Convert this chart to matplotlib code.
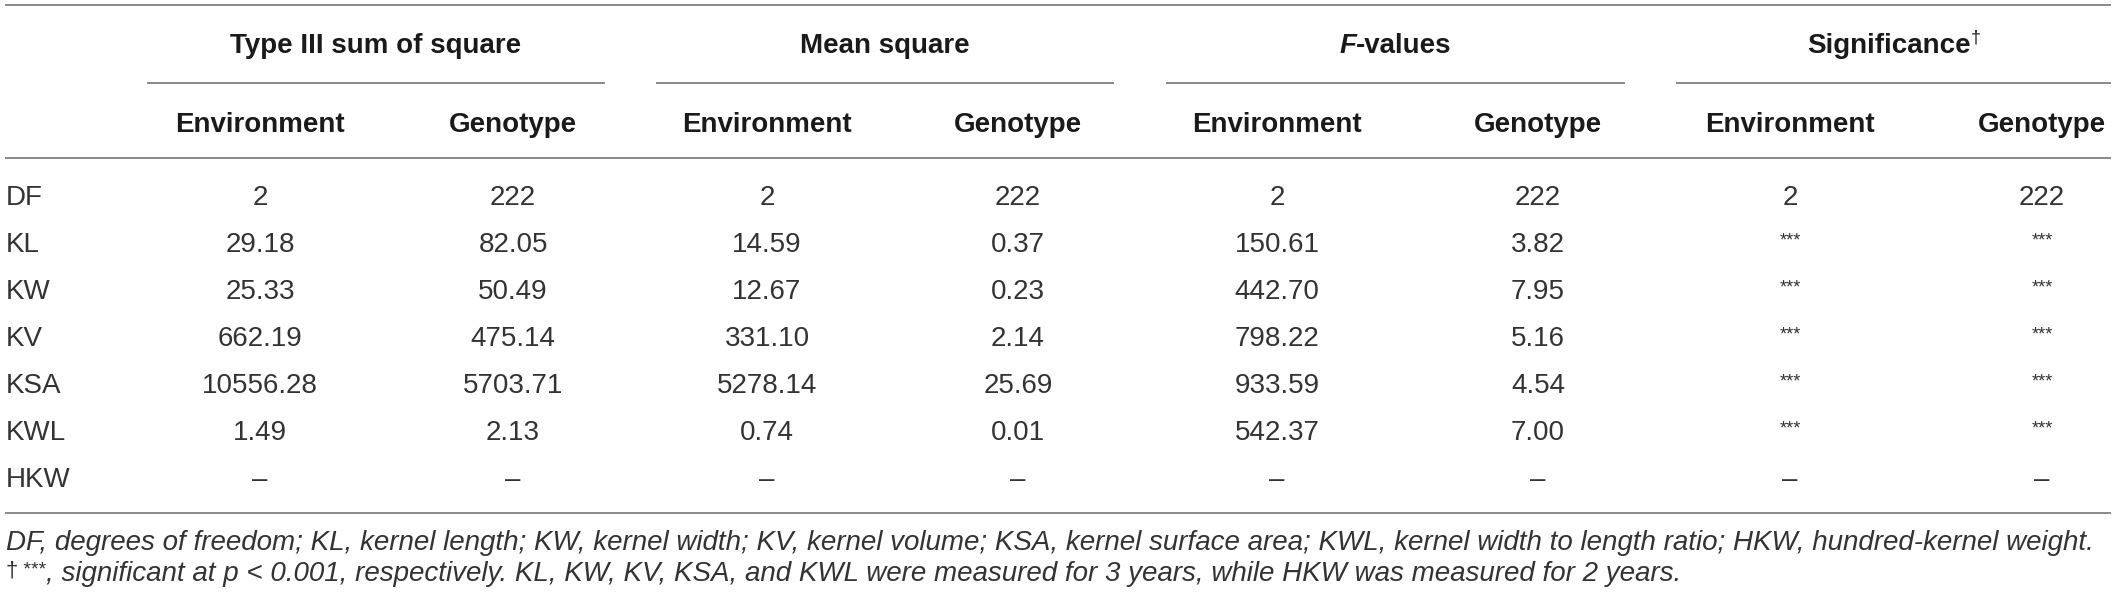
import matplotlib
matplotlib.use("Agg")
import matplotlib.pyplot as plt

plt.rcParams['font.family'] = ['Liberation Sans', 'DejaVu Sans']

# table content
groups = ["Type III sum of square", "Mean square", "F-values", "Significance"]
sub_heads = ["Environment", "Genotype"]
row_labels = ["DF", "KL", "KW", "KV", "KSA", "KWL", "HKW"]

sum_sq_env = ["2", "29.18", "25.33", "662.19", "10556.28", "1.49", "–"]
sum_sq_gen = ["222", "82.05", "50.49", "475.14", "5703.71", "2.13", "–"]
mean_sq_env = ["2", "14.59", "12.67", "331.10", "5278.14", "0.74", "–"]
mean_sq_gen = ["222", "0.37", "0.23", "2.14", "25.69", "0.01", "–"]
f_env = ["2", "150.61", "442.70", "798.22", "933.59", "542.37", "–"]
f_gen = ["222", "3.82", "7.95", "5.16", "4.54", "7.00", "–"]
sig_env = ["2", "***", "***", "***", "***", "***", "–"]
sig_gen = ["222", "***", "***", "***", "***", "***", "–"]

footnote_1 = ("DF, degrees of freedom; KL, kernel length; KW, kernel width; KV, kernel volume; "
              "KSA, kernel surface area; KWL, kernel width to length ratio; HKW, hundred-kernel weight.")
footnote_2 = (", significant at p < 0.001, respectively. KL, KW, KV, KSA, and KWL were measured "
              "for 3 years, while HKW was measured for 2 years.")

columns = [sum_sq_env, sum_sq_gen, mean_sq_env, mean_sq_gen, f_env, f_gen, sig_env, sig_gen]

# layout (pixels)
W, H = 2117, 599
col_x = [260, 513, 767, 1018, 1277, 1538, 1790, 2042]
group_span = [(147, 605), (656, 1114), (1166, 1625), (1676, 2111)]
row_y = [195, 242, 289, 336, 383, 430, 477]
line_col = '#808080'
head_col = '#1a1a1a'
body_col = '#333333'
FS = 20

fig = plt.figure(figsize=(W / 100, H / 100), dpi=100)
ax = fig.add_axes([0, 0, 1, 1])
ax.set_xlim(0, W)
ax.set_ylim(H, 0)
ax.axis('off')
renderer = fig.canvas.get_renderer()


def text_width(t):
    return t.get_window_extent(renderer=renderer).width


def draw_runs(x, y, runs, color, ha='left'):
    # runs: (string, fontsize, style, weight, dy)
    objs = []
    for s, fs, style, weight, dy in runs:
        objs.append(ax.text(0, y + dy, s, fontsize=fs, fontstyle=style, fontweight=weight,
                            color=color, va='baseline', ha='left'))
    widths = [text_width(o) for o in objs]
    start = x - sum(widths) / 2 if ha == 'center' else x
    for o, w in zip(objs, widths):
        o.set_x(start)
        start += w
    return objs


# horizontal rules
for y in (5, 158, 513):
    ax.plot([5, 2111], [y, y], color=line_col, lw=1.3, solid_capstyle='butt')
for x0, x1 in group_span:
    ax.plot([x0, x1], [83, 83], color=line_col, lw=1.3, solid_capstyle='butt')

# group headers
for i, g in enumerate(groups):
    cx = (group_span[i][0] + group_span[i][1]) / 2
    if g == "F-values":
        draw_runs(cx, 53, [("F", FS, 'italic', 'bold', 0), ("-values", FS, 'normal', 'bold', 0)],
                  head_col, ha='center')
    elif g == "Significance":
        draw_runs(cx, 53, [(g, FS, 'normal', 'bold', 0), ("†", 13, 'normal', 'normal', -10)],
                  head_col, ha='center')
    else:
        ax.text(cx, 53, g, fontsize=FS, fontweight='bold', color=head_col, ha='center', va='baseline')

# sub headers
for i, x in enumerate(col_x):
    ax.text(x, 132, sub_heads[i % 2], fontsize=FS, fontweight='bold', color=head_col,
            ha='center', va='baseline')

# body
for r, lab in enumerate(row_labels):
    ax.text(6, row_y[r] + 10, lab, fontsize=FS, color=body_col, ha='left', va='baseline')
    for c, col in enumerate(columns):
        val = col[r]
        if val == "***":
            ax.text(col_x[c], row_y[r] - 10, val, fontsize=13, color=body_col, ha='center', va='top')
        else:
            ax.text(col_x[c], row_y[r] + 10, val, fontsize=FS, color=body_col, ha='center', va='baseline')

# footnotes, fitted to the table width
probe = ax.text(6, 550, footnote_1, fontsize=17, fontstyle='italic', color=body_col, va='baseline')
fn_fs = 17 * 2098 / text_width(probe)
probe.set_fontsize(fn_fs)
draw_runs(6, 581, [("†", fn_fs * 0.8, 'normal', 'normal', -4),
                   (" ***", fn_fs * 0.7, 'normal', 'normal', -6),
                   (footnote_2, fn_fs, 'italic', 'normal', 0)], body_col)

fig.savefig("out.png", dpi=100)
